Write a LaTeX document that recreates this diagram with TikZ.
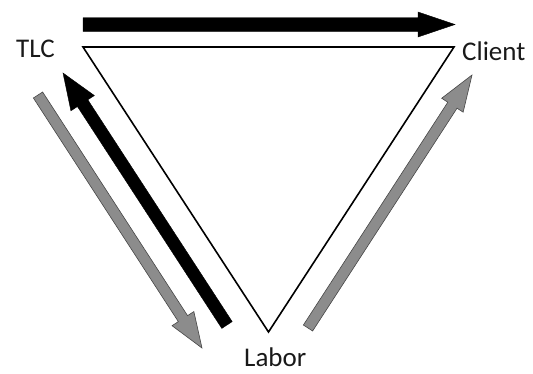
\documentclass[tikz,border=0pt]{standalone}
\usepackage{fontspec}
\setmainfont{Carlito}
\newcommand\barrow[8]{%
  \pgfmathsetmacro\bang{atan2(#2-#4,#3-#1)}%
  \pgfmathsetmacro\blen{veclen(#3-#1,#4-#2)}%
  \begin{scope}[shift={(#1,#2)},rotate=\bang]
    \draw[#8] (0,-#5) -- ({\blen-#7},-#5) -- ({\blen-#7},-#6) -- (\blen,0)
      -- ({\blen-#7},#6) -- ({\blen-#7},#5) -- (0,#5) -- cycle;
  \end{scope}}
\tikzset{
  blackarrow/.style={fill=black,draw=black,line width=0.4pt,line join=miter},
  grayarrow/.style={fill={rgb,255:red,140;green,140;blue,140},draw={rgb,255:red,70;green,70;blue,70},line width=0.6pt,line join=miter},
  tri/.style={draw=black,line width=1.6pt,line join=miter},
  lbl/.style={font=\fontsize{27}{32}\selectfont,text={rgb,255:red,25;green,25;blue,25},inner sep=0pt,anchor=base west}
}
\begin{document}
\begin{tikzpicture}[x=1pt,y=-1pt]
\useasboundingbox (0,0) rectangle (533,373);
\coordinate (t1) at (83,47);
\coordinate (t2) at (454,47);
\coordinate (t3) at (268.5,332);
\draw[tri] (t1) -- (t2) -- (t3) -- cycle;
\node[lbl] (tlc) at (16,57) {TLC};
\node[lbl] (client) at (462,60) {Client};
\node[lbl] (labor) at (244,366) {Labor};
% top arrow
\barrow{83}{24.5}{455}{24.5}{6.8}{12.5}{37}{blackarrow}
% left black arrow (Labor -> TLC)
\barrow{227}{325}{63}{73}{6.2}{14}{36}{blackarrow}
% left gray arrow (TLC -> Labor)
\barrow{38}{95}{202}{348}{5.5}{13}{35}{grayarrow}
% right gray arrow (Labor -> Client)
\barrow{308}{328}{472}{75}{5.5}{12.8}{36}{grayarrow}
\end{tikzpicture}
\end{document}
